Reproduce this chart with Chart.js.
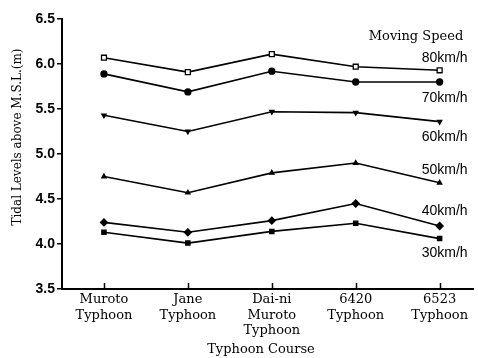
<!DOCTYPE html>
<html>
<head>
<meta charset="utf-8">
<script src="https://cdn.jsdelivr.net/npm/chart.js@4.4.1/dist/chart.umd.min.js"></script>
<style>
  html, body { margin: 0; padding: 0; background: #fff; }
  #wrap { width: 478px; height: 358px; position: relative; }
</style>
</head>
<body>
<div id="wrap"><canvas id="c" width="478" height="358"></canvas></div>
<script>
// Typhoon courses along the x axis (multi-line labels)
const courses = [
  ['Muroto', 'Typhoon'],
  ['Jane', 'Typhoon'],
  ['Dai-ni', 'Muroto', 'Typhoon'],
  ['6420', 'Typhoon'],
  ['6523', 'Typhoon']
];

// Tidal level (m above M.S.L.) per moving speed
const speedLabels = ['80km/h', '70km/h', '60km/h', '50km/h', '40km/h', '30km/h'];
const speed80 = [6.07, 5.91, 6.11, 5.97, 5.93];
const speed70 = [5.89, 5.69, 5.92, 5.80, 5.80];
const speed60 = [5.43, 5.25, 5.47, 5.46, 5.36];
const speed50 = [4.75, 4.57, 4.79, 4.90, 4.68];
const speed40 = [4.24, 4.13, 4.26, 4.45, 4.20];
const speed30 = [4.13, 4.01, 4.14, 4.23, 4.06];

const yTicks = [3.5, 4.0, 4.5, 5.0, 5.5, 6.0, 6.5];

const seriesValues = [speed80, speed70, speed60, speed50, speed40, speed30];
const markerStyles = [
  { pointStyle: 'rect', pointRadius: 3.5, pointBackgroundColor: '#fff', pointRotation: 0 },
  { pointStyle: 'circle', pointRadius: 3, pointBackgroundColor: '#000', pointRotation: 0 },
  { pointStyle: 'triangle', pointRadius: 2.5, pointBackgroundColor: '#000', pointRotation: 180 },
  { pointStyle: 'triangle', pointRadius: 2.5, pointBackgroundColor: '#000', pointRotation: 0 },
  { pointStyle: 'rectRot', pointRadius: 3.5, pointBackgroundColor: '#000', pointRotation: 0 },
  { pointStyle: 'rect', pointRadius: 3, pointBackgroundColor: '#000', pointRotation: 0 }
];
// vertical shift of each series label relative to its last point
const labelShift = [-12, 16, 16, -13, -15, 15];

const datasets = seriesValues.map((vals, i) => ({
  label: speedLabels[i],
  data: vals.map((v, j) => ({ x: j, y: v })),
  borderColor: '#000',
  borderWidth: 1.6,
  pointBorderColor: '#000',
  pointBorderWidth: 1.3,
  pointHoverRadius: 3,
  tension: 0,
  ...markerStyles[i]
}));

const SANS = '"Liberation Sans", Arial, sans-serif';
const SERIF = '"DejaVu Serif", "Liberation Serif", serif';

const decorations = {
  id: 'decorations',
  afterDraw(chart) {
    const { ctx, chartArea, scales } = chart;
    const xs = scales.x, ys = scales.y;
    ctx.save();
    ctx.strokeStyle = '#000';
    ctx.lineWidth = 1.5;
    // inward tick marks on the course axis
    courses.forEach((c, i) => {
      const px = Math.round(xs.getPixelForValue(i)) + 0.5;
      ctx.beginPath();
      ctx.moveTo(px, chartArea.bottom);
      ctx.lineTo(px, chartArea.bottom - 6);
      ctx.stroke();
    });
    // series labels next to the last point
    ctx.fillStyle = '#000';
    ctx.font = '14px ' + SANS;
    ctx.textAlign = 'center';
    ctx.textBaseline = 'middle';
    seriesValues.forEach((vals, i) => {
      const px = xs.getPixelForValue(vals.length - 1) + 5;
      const py = ys.getPixelForValue(vals[vals.length - 1]) + labelShift[i];
      ctx.fillText(speedLabels[i], px, py);
    });
    // legend heading
    ctx.font = '13px ' + SERIF;
    ctx.fillText('Moving Speed', 416, 37);
    // axis titles
    ctx.font = '13px ' + SERIF;
    ctx.fillText('Typhoon Course', 261, 350);
    ctx.translate(18, 137);
    ctx.rotate(-Math.PI / 2);
    ctx.font = '12px ' + SERIF;
    ctx.fillText('Tidal Levels above M.S.L.(m)', 0, 0);
    ctx.restore();
  }
};

new Chart(document.getElementById('c'), {
  type: 'line',
  data: { datasets },
  options: {
    responsive: false,
    animation: false,
    devicePixelRatio: 1,
    layout: { padding: { left: 0, right: 2, top: 19, bottom: 0 } },
    plugins: {
      legend: { display: false },
      tooltip: { enabled: false },
      title: { display: false }
    },
    scales: {
      x: {
        type: 'linear',
        min: -0.5,
        max: 4.4,
        afterBuildTicks(scale) {
          scale.ticks = courses.map((c, i) => ({ value: i }));
        },
        afterFit(scale) { scale.height = 69; },
        border: { display: true, color: '#000', width: 2 },
        grid: { display: true, drawOnChartArea: false, drawTicks: false, color: 'rgba(0,0,0,0)' },
        ticks: {
          color: '#000',
          padding: 3,
          maxRotation: 0,
          autoSkip: false,
          font: { family: SERIF, size: 13, lineHeight: 1.2 },
          callback: (v) => courses[v] || ''
        }
      },
      y: {
        min: 3.5,
        max: 6.5,
        afterBuildTicks(scale) {
          scale.ticks = yTicks.map(v => ({ value: v }));
        },
        afterFit(scale) { scale.width = 62; },
        border: { display: true, color: '#000', width: 2 },
        grid: { display: true, drawOnChartArea: false, drawTicks: true, tickLength: 5, color: '#000', lineWidth: 1.5 },
        ticks: {
          color: '#000',
          padding: 2,
          font: { family: SANS, size: 14, weight: 'bold' },
          callback: (v) => Number(v).toFixed(1)
        }
      }
    }
  },
  plugins: [decorations]
});
</script>
</body>
</html>
